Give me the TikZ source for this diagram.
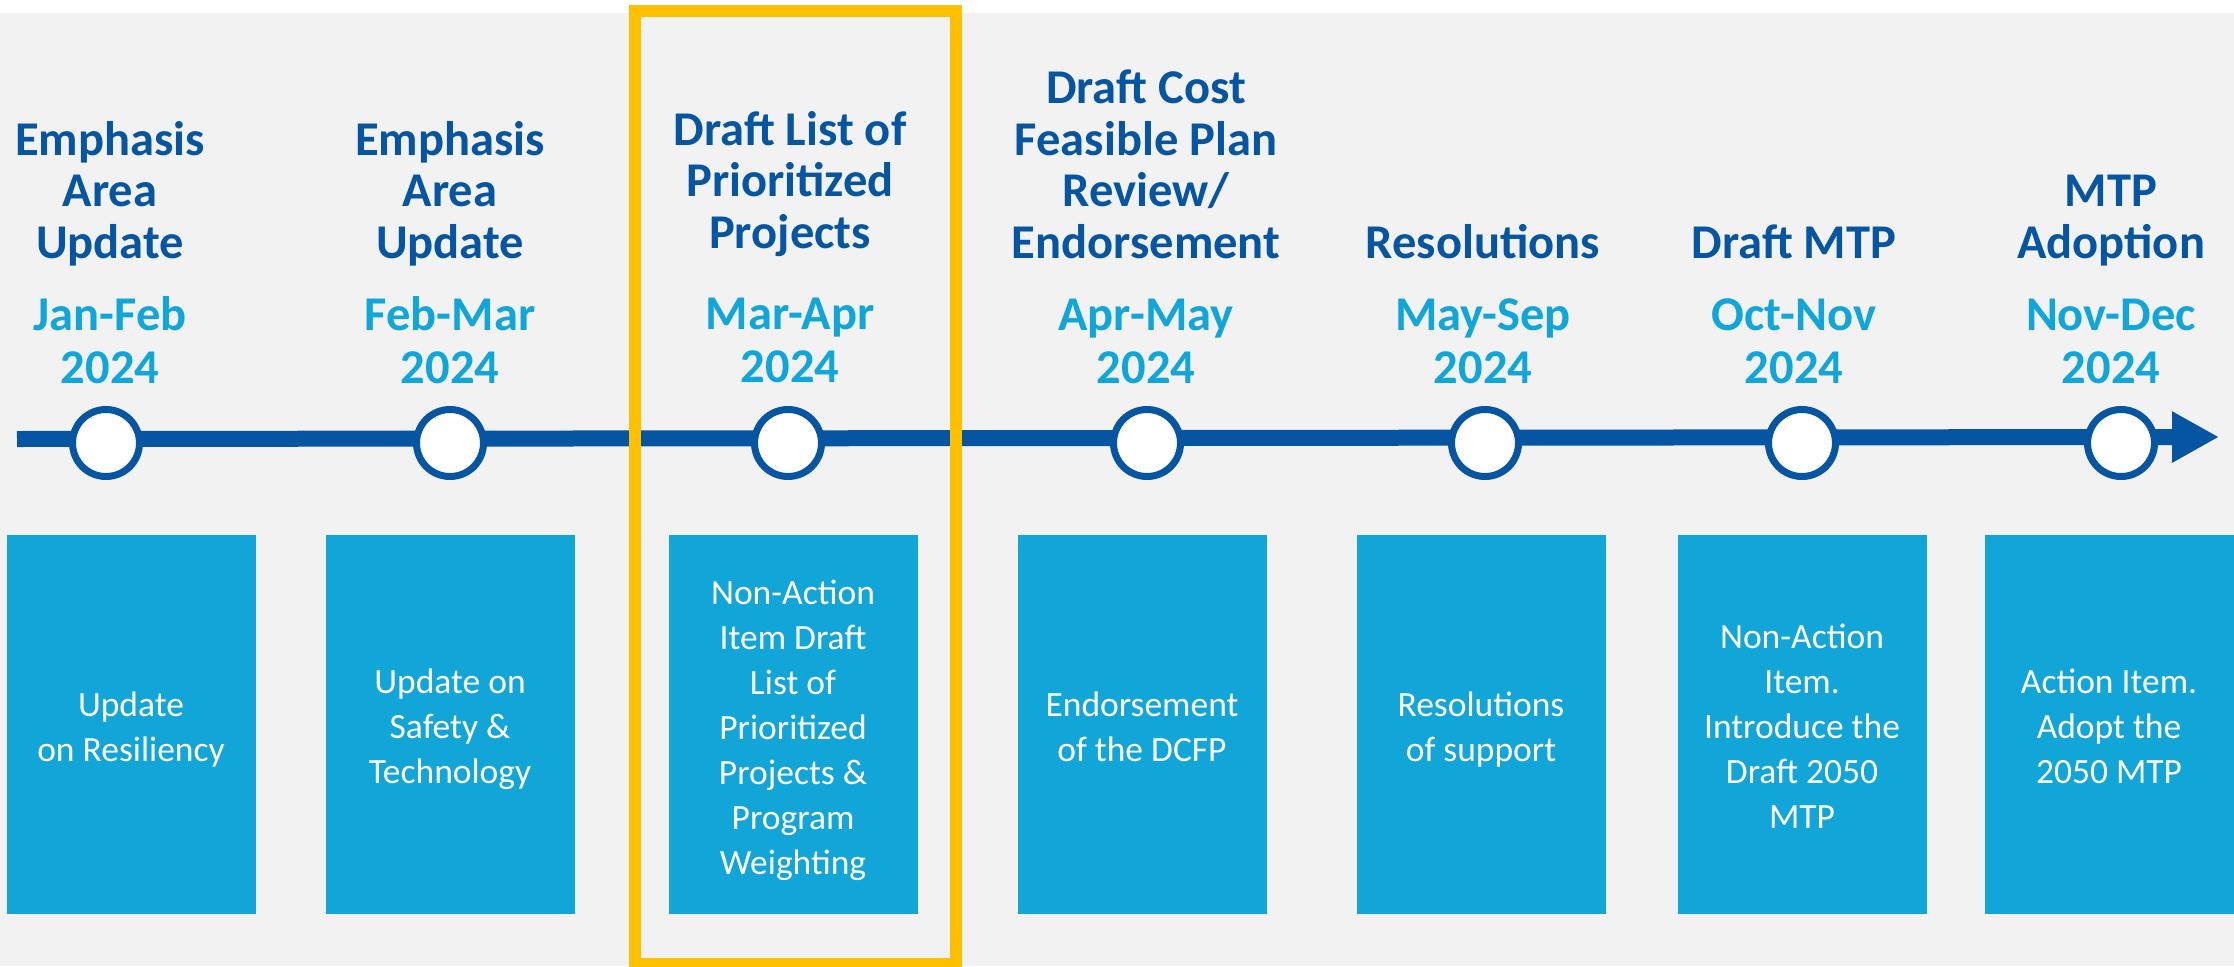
\documentclass[tikz,border=0pt]{standalone}
\usepackage{fontspec}
\setmainfont{Carlito}
\usetikzlibrary{arrows.meta}
\definecolor{bggray}{HTML}{F2F2F2}
\definecolor{darkblue}{HTML}{0555A3}
\definecolor{dateblue}{HTML}{10A6DA}
\definecolor{boxblue}{HTML}{11A5D8}
\definecolor{hiyellow}{HTML}{FFC000}
\tikzset{
  titletext/.style={anchor=base, align=center, text=darkblue, inner sep=0pt,
    font=\fontsize{48.5}{51.5}\selectfont\bfseries},
  datetext/.style={anchor=base, align=center, text=dateblue, inner sep=0pt,
    font=\fontsize{48.5}{53}\selectfont\bfseries},
  boxtext/.style={anchor=base, align=center, text=white, inner sep=0pt,
    font=\fontsize{35.5}{45}\selectfont},
  panel/.style={fill=boxblue, draw=none, inner sep=0pt, minimum width=249pt, minimum height=379pt},
  milestone/.style={circle, draw=darkblue, line width=7pt, fill=white, minimum size=67pt, inner sep=0pt},
}
\begin{document}
\begin{tikzpicture}[x=1pt,y=-1pt]
\useasboundingbox (0,0) rectangle (2234,966);
\fill[bggray] (0,13) rectangle (2234,966);

% timeline
\coordinate (tlstart) at (17,439);
\coordinate (tlend) at (2219,437);
\draw[line width=16pt, darkblue, -{Triangle[length=47pt,width=48pt]}] (tlstart) -- (tlend);

% milestones
\node[milestone] (m1) at (106,443) {};
\node[milestone] (m2) at (450,443) {};
\node[milestone] (m3) at (788,443) {};
\node[milestone] (m4) at (1147,443) {};
\node[milestone] (m5) at (1485,443) {};
\node[milestone] (m6) at (1802,443) {};
\node[milestone] (m7) at (2121,443) {};

% titles (anchored at the baseline of the last line)
\node[titletext] (t1) at (110,258) {Emphasis\\Area\\Update};
\node[titletext] (t2) at (450,258) {Emphasis\\Area\\Update};
\node[titletext] (t3) at (790,248) {Draft List of\\Prioritized\\Projects};
\node[titletext] (t4) at (1146,258) {Draft Cost\\Feasible Plan\\Review/\\Endorsement};
\node[titletext] (t5) at (1483,258) {Resolutions};
\node[titletext] (t6) at (1794,258) {Draft MTP};
\node[titletext] (t7) at (2111,258) {MTP\\Adoption};

% dates
\node[datetext] (d1) at (110,383) {Jan-Feb\\2024};
\node[datetext] (d2) at (450,383) {Feb-Mar\\2024};
\node[datetext] (d3) at (790,382) {Mar-Apr\\2024};
\node[datetext] (d4) at (1146,383) {Apr-May\\2024};
\node[datetext] (d5) at (1483,383) {May-Sep\\2024};
\node[datetext] (d6) at (1794,383) {Oct-Nov\\2024};
\node[datetext] (d7) at (2111,383) {Nov-Dec\\2024};

% panels
\node[panel] (p1) at (131,724.5) {};
\node[panel] (p2) at (450,724.5) {};
\node[panel] (p3) at (793,724.5) {};
\node[panel] (p4) at (1142,724.5) {};
\node[panel] (p5) at (1481,724.5) {};
\node[panel] (p6) at (1802,724.5) {};
\node[panel] (p7) at (2109,724.5) {};

\node[boxtext] (b1) at (131,761) {Update\\on Resiliency};
\node[boxtext] (b2) at (450,783) {Update on\\Safety \&\\Technology};
\node[boxtext] (b3) at (793,874) {Non-Action\\Item Draft\\List of\\Prioritized\\Projects \&\\Program\\Weighting};
\node[boxtext] (b4) at (1142,761) {Endorsement\\of the DCFP};
\node[boxtext] (b5) at (1481,761) {Resolutions\\of support};
\node[boxtext] (b6) at (1802,828) {Non-Action\\Item.\\Introduce the\\Draft 2050\\MTP};
\node[boxtext] (b7) at (2109,783) {Action Item.\\Adopt the\\2050 MTP};

% highlight frame
\draw[hiyellow, line width=12pt] (635,11) rectangle (956,964);
\end{tikzpicture}
\end{document}
